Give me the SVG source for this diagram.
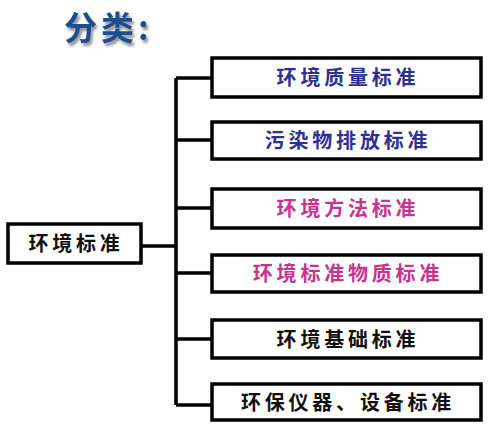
<svg xmlns="http://www.w3.org/2000/svg" width="499" height="430" viewBox="0 0 499 430">
<defs>
<filter id="sh" x="-20%" y="-20%" width="140%" height="140%">
<feGaussianBlur in="SourceAlpha" stdDeviation="1.5"/>
<feOffset dx="2" dy="3" result="b"/>
<feComponentTransfer><feFuncA type="linear" slope="0.45"/></feComponentTransfer>
<feMerge><feMergeNode/><feMergeNode in="SourceGraphic"/></feMerge>
</filter>
</defs>
<style>
.box{fill:#fff;stroke:#000;stroke-width:3.5}
.t{font-family:"Noto Sans CJK SC","Noto Sans CJK JP",serif;font-size:20px;font-weight:bold;letter-spacing:3.8px;text-anchor:middle}
.blue{fill:#2E3192}
.pink{fill:#C8338F}
.black{fill:#111}
.ln{fill:none;stroke:#000;stroke-width:3.5}
.title{font-family:"Noto Sans CJK SC","Noto Sans CJK JP",serif;font-size:33px;font-weight:bold;fill:#1F4E8F;letter-spacing:4px}
</style>
<rect width="499" height="430" fill="#fff"/>
<text class="title" x="64" y="40" filter="url(#sh)">分类:</text>
<g id="connectors">
<path class="ln" d="M141,246 H176 M176,78 V405 M176,78 H212 M176,140 H212 M176,208 H212 M176,273 H212 M176,339 H212 M176,405 H212"/>
</g>
<g id="root">
<rect class="box" x="8" y="224" width="133" height="39"/>
<text class="t black" x="76" y="251">环境标准</text>
</g>
<g id="n1">
<rect class="box" x="212" y="58" width="269" height="39"/>
<text class="t blue" x="348" y="85">环境质量标准</text>
</g>
<g id="n2">
<rect class="box" x="212" y="122" width="269" height="37"/>
<text class="t blue" x="348" y="148">污染物排放标准</text>
</g>
<g id="n3">
<rect class="box" x="212" y="189" width="269" height="39"/>
<text class="t pink" x="348" y="216">环境方法标准</text>
</g>
<g id="n4">
<rect class="box" x="212" y="255" width="269" height="37"/>
<text class="t pink" x="348" y="281">环境标准物质标准</text>
</g>
<g id="n5">
<rect class="box" x="212" y="320" width="269" height="38"/>
<text class="t black" x="348" y="347">环境基础标准</text>
</g>
<g id="n6">
<rect class="box" x="212" y="384" width="269" height="36"/>
<text class="t black" x="348" y="410">环保仪器、设备标准</text>
</g>
</svg>
